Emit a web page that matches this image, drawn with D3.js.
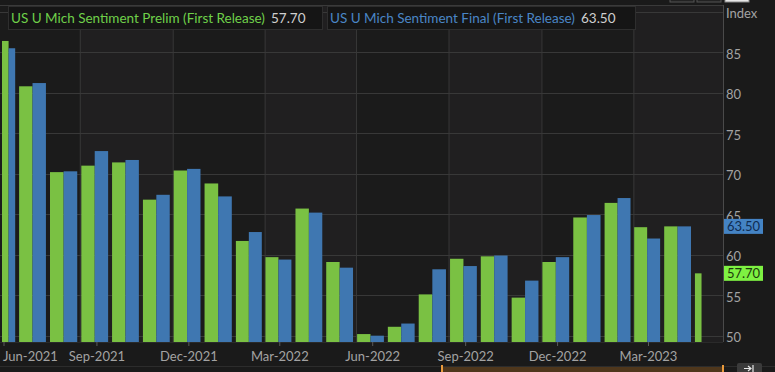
<!DOCTYPE html>
<html><head><meta charset="utf-8">
<script src="https://cdn.jsdelivr.net/npm/d3@7"></script>
<style>
html,body{margin:0;padding:0;background:#1a1a1a;overflow:hidden}
svg{display:block}
text{font-family:Lato,"Open Sans",sans-serif}
</style></head><body>
<svg id="c" width="775" height="372"></svg>
<script>
const months = ["2021-06","2021-07","2021-08","2021-09","2021-10","2021-11","2021-12",
  "2022-01","2022-02","2022-03","2022-04","2022-05","2022-06","2022-07","2022-08","2022-09",
  "2022-10","2022-11","2022-12","2023-01","2023-02","2023-03","2023-04","2023-05"];
const prelim = [86.4,80.8,70.2,71.0,71.4,66.8,70.4,68.8,61.7,59.7,65.7,59.1,50.2,51.1,55.1,59.5,59.8,54.7,59.1,64.6,66.4,63.4,63.5,57.7];
const finalV = [85.5,81.2,70.3,72.8,71.7,67.4,70.6,67.2,62.8,59.4,65.2,58.4,50.0,51.5,58.2,58.6,59.9,56.8,59.7,64.9,67.0,62.0,63.5,null];
const yTickValues = [50,55,60,65,70,75,80,85];
const yGridValues = [50,55,60,65,70,75,80,85,90];
const xTickMonths = ["2021-06","2021-09","2021-12","2022-03","2022-06","2022-09","2022-12","2023-03"];
const seriesNames = ["US U Mich Sentiment Prelim (First Release)","US U Mich Sentiment Final (First Release)"];
const lastValues = [57.70, 63.50];
const axisTitle = "Index";

const colors = {green:"#7ac143", blue:"#3f77b1", grid:"#383838", text:"#a3a3a3"};
const svg = d3.select("#c");
const P = {left:0, right:723, top:5, bottom:342};
const parse = d3.timeParse("%Y-%m");
const dates = months.map(parse);
const x = d3.scaleTime().domain([parse("2021-06"), parse("2023-03")]).range([3.5, 648]);
const y = d3.scaleLinear().domain([49.22, 90.84]).range([P.bottom, P.top]);

svg.append("rect").attr("width",775).attr("height",372).attr("fill","#1a1a1a");

const qTicks = d3.timeMonth.every(3).range(parse("2021-03"), parse("2023-10"));
const vGrid = [];
for (let i=0;i<qTicks.length-1;i++){ vGrid.push((x(qTicks[i])+x(qTicks[i+1]))/2); }
const vIn = vGrid.filter(v=>v>P.left && v<P.right);
const bandEdges = [P.left, ...vIn, P.right];
svg.append("g").selectAll("rect").data(d3.pairs(bandEdges)).join("rect")
  .attr("x",d=>d[0]).attr("width",d=>d[1]-d[0])
  .attr("y",P.top).attr("height",P.bottom-P.top)
  .attr("fill",(d,i)=> i%2===1 ? "#201f20" : "#1b1b1b");

svg.append("g").selectAll("line").data(vIn).join("line")
  .attr("x1",d=>d).attr("x2",d=>d).attr("y1",P.top).attr("y2",P.bottom)
  .attr("stroke",colors.grid).attr("stroke-width",1);
svg.append("g").selectAll("line").data(yGridValues).join("line")
  .attr("x1",P.left).attr("x2",P.right).attr("y1",d=>Math.round(y(d))+0.5).attr("y2",d=>Math.round(y(d))+0.5)
  .attr("stroke",colors.grid).attr("stroke-width",1);

svg.append("clipPath").attr("id","pc").append("rect")
  .attr("x",P.left).attr("y",P.top).attr("width",P.right-P.left).attr("height",P.bottom-P.top);
const centers = dates.map(d=>x(d)-1.5);
const n = months.length, k = 0.87;
const barData = [];
months.forEach((m,i)=>{
  const lh = i>0 ? (centers[i]-centers[i-1])/2*k : 0;
  const rh = i<n-1 ? (centers[i+1]-centers[i])/2*k : 0;
  const l = centers[i]-lh, r = centers[i]+rh, mid=(l+r)/2;
  if (prelim[i]!=null) barData.push({x0:l,x1:mid,v:prelim[i],c:colors.green});
  if (finalV[i]!=null) barData.push({x0:mid,x1:r,v:finalV[i],c:colors.blue});
});
svg.append("g").attr("clip-path","url(#pc)").selectAll("rect").data(barData).join("rect")
  .attr("x",d=>d.x0).attr("width",d=>d.x1-d.x0)
  .attr("y",d=>y(d.v)).attr("height",d=>y.range()[0]-y(d.v))
  .attr("fill",d=>d.c);

svg.append("line").attr("x1",P.left).attr("x2",P.right).attr("y1",P.top+0.5).attr("y2",P.top+0.5).attr("stroke","#3a3a3a");
svg.append("line").attr("x1",P.right+0.5).attr("x2",P.right+0.5).attr("y1",P.top).attr("y2",P.bottom).attr("stroke","#4a4a4a");
svg.append("line").attr("x1",P.left).attr("x2",P.right).attr("y1",P.bottom+0.5).attr("y2",P.bottom+0.5).attr("stroke","#2a2a2a");

const yAxis = d3.axisRight(y).tickValues(yTickValues).tickSize(0).tickPadding(3).tickFormat(d3.format("d"));
const ya = svg.append("g").attr("transform",`translate(${P.right},0)`).call(yAxis);
ya.select(".domain").remove();
ya.selectAll("text").attr("fill",colors.text).attr("font-size",13).attr("dy","0.45em");
svg.append("text").attr("x",P.right+3).attr("y",y(90)+6).attr("fill",colors.text).attr("font-size",13).text(axisTitle);

const xAxis = d3.axisBottom(x).tickValues(xTickMonths.map(parse)).tickSize(4).tickPadding(6).tickFormat(d3.timeFormat("%b-%Y"));
const xa = svg.append("g").attr("transform",`translate(0,${P.bottom})`).call(xAxis);
xa.select(".domain").remove();
xa.selectAll("line").attr("stroke","#5a5a5a");
xa.selectAll("text").attr("fill",colors.text).attr("font-size",13);
xa.selectAll("text").each(function(){
  const b=this.getBBox(); const t=d3.select(this.parentNode).attr("transform");
  const tx=+t.match(/translate\(([-\d.]+)/)[1];
  if (tx+b.x<3) d3.select(this).attr("dx", 3-(tx+b.x));
});

svg.append("line").attr("x1",0).attr("x2",775).attr("y1",366.5).attr("y2",366.5).attr("stroke","#2c2c2c");
svg.append("rect").attr("x",442).attr("y",367).attr("width",281).attr("height",6).attr("fill","#4f371c");
svg.append("rect").attr("x",441).attr("y",365).attr("width",2).attr("height",8).attr("fill","#e99a3c");
svg.append("rect").attr("x",722).attr("y",365).attr("width",2).attr("height",8).attr("fill","#e99a3c");
svg.append("rect").attr("x",737).attr("y",363).attr("width",25).attr("height",12).attr("rx",2).attr("fill","#3b3b3b");
svg.append("path").attr("d","M744,368.5 h7 M748,366 l3,2.5 l-3,2.5 M753,365 v8").attr("stroke","#e8e8e8").attr("fill","none").attr("stroke-width",1.2);

[[670,"#222","#555"],[697,"#222","#555"],[725,"#e6e6e6","#888"]].forEach(b=>{
  svg.append("rect").attr("x",b[0]).attr("y",-10).attr("width",24).attr("height",12).attr("fill",b[1]).attr("stroke",b[2]);
});

const legends = [
  {x:8, w:314, name:seriesNames[0], val:lastValues[0], c:"#6fd04a"},
  {x:327, w:308, name:seriesNames[1], val:lastValues[1], c:"#4a86c6"}
];
legends.forEach(L=>{
  const g = svg.append("g");
  g.append("rect").attr("x",L.x+0.5).attr("y",6.5).attr("width",L.w).attr("height",23).attr("fill","#151515").attr("stroke","#2e2e2e");
  const t = g.append("text").attr("x",L.x+3).attr("y",22.5).attr("font-size",13.5).attr("fill",L.c).text(L.name);
  const bw = t.node().getComputedTextLength();
  g.append("text").attr("x",L.x+3+bw+6).attr("y",22.5).attr("font-size",13.5).attr("fill","#cfcfcf").text(L.val.toFixed(2));
});

[{v:lastValues[1],bg:"#4483c4",fg:"#0f2c52"},{v:lastValues[0],bg:"#7ef142",fg:"#1d3a0c"}].forEach(B=>{
  const cy=y(B.v);
  svg.append("rect").attr("x",P.right+1).attr("y",cy-7.5).attr("width",39).attr("height",15).attr("fill",B.bg);
  svg.append("text").attr("x",P.right+20.5).attr("y",cy).attr("dy","0.36em").attr("text-anchor","middle")
    .attr("font-size",13).attr("fill",B.fg).text(B.v.toFixed(2));
});
</script>
</body></html>
